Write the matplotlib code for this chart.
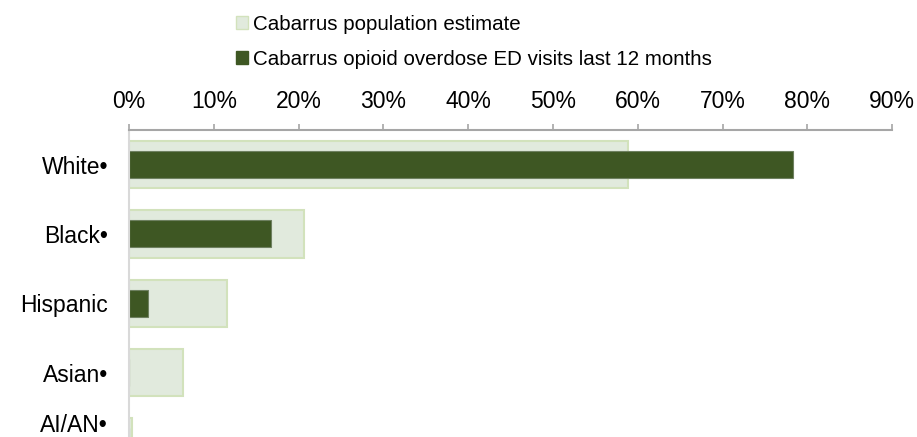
import matplotlib
matplotlib.use('Agg')
import matplotlib.pyplot as plt
from matplotlib.patches import Patch
from matplotlib.transforms import ScaledTranslation

plt.rcParams['font.family'] = ['Liberation Sans', 'DejaVu Sans']

# Datos
categorias = ['White•', 'Black•', 'Hispanic', 'Asian•', 'AI/AN•']
poblacion = [58.8, 20.6, 11.6, 6.4, 0.4]
visitas_ed = [78.3, 16.7, 2.2, 0.0, 0.0]
ticks = [0, 10, 20, 30, 40, 50, 60, 70, 80, 90]

color_pob = '#E1EADD'
borde_pob = '#D2E2BC'
color_ed = '#3E5723'
borde_ed = '#6E8060'

fig = plt.figure(figsize=(9.17, 4.37), dpi=100)
ax = fig.add_axes([0.1407, -0.0904, 0.8323, 0.7929])

y = list(range(len(categorias)))
ax.barh(y, poblacion, height=0.68, color=color_pob, edgecolor=borde_pob, linewidth=1.5)
ax.barh(y, visitas_ed, height=0.39, color=color_ed, edgecolor=borde_ed, linewidth=0.8)

ax.set_xlim(0, 90)
ax.set_ylim(len(categorias) - 0.5, -0.5)
ax.xaxis.tick_top()
ax.set_xticks(ticks)
ax.set_xticklabels([f'{t}%' for t in ticks], fontsize=16.5)
ax.tick_params(axis='x', direction='out', length=4, width=1.2, color='#A6A6A6', pad=8)
ax.set_yticks(y)
ax.set_yticklabels(categorias, fontsize=16.5)
ax.tick_params(axis='y', length=0, pad=15)

for s in ['right', 'bottom']:
    ax.spines[s].set_visible(False)
ax.spines['top'].set_color('#A6A6A6')
ax.spines['top'].set_linewidth(1.5)
ax.spines['left'].set_color('#D9D9D9')
ax.spines['left'].set_linewidth(1.5)

# la ultima etiqueta queda cortada, la subimos un poco
lab = ax.get_yticklabels()[-1]
lab.set_transform(lab.get_transform() + ScaledTranslation(0, 0.19, fig.dpi_scale_trans))

handles = [Patch(facecolor=color_pob, edgecolor=borde_pob, label='Cabarrus population estimate'),
           Patch(facecolor=color_ed, edgecolor=color_ed, label='Cabarrus opioid overdose ED visits last 12 months')]
fig.legend(handles=handles, loc='upper left', bbox_to_anchor=(0.248, 0.985), frameon=False,
           fontsize=14.8, handlelength=0.6, handleheight=0.6, handletextpad=0.25, labelspacing=0.77,
           borderaxespad=0)

fig.savefig('out.png', dpi=100)
plt.close(fig)
